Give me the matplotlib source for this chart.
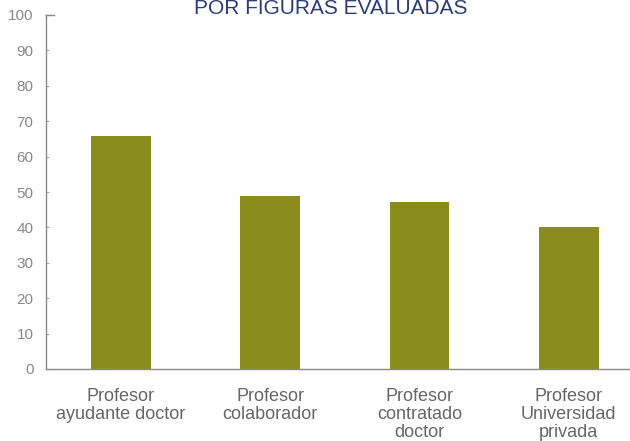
import matplotlib.pyplot as plt
from matplotlib.lines import Line2D
import numpy as np

categories = ['Profesor\nayudante doctor', 'Profesor\ncolaborador',
              'Profesor\ncontratado\ndoctor', 'Profesor\nUniversidad\nprivada']
values = [65.7, 49.0, 47.3, 40.2]
yticks = list(range(0, 101, 10))

plt.rcParams['font.family'] = ['Liberation Sans', 'DejaVu Sans']

fig = plt.figure(figsize=(6.3, 4.41), dpi=100)
ax = fig.add_axes([46/630, 1 - 369/441, 1 - 46/630, (369 - 15)/441])

x = np.arange(len(categories))
ax.bar(x, values, width=0.4, color='#8a8c1b')

ax.set_xlim(-0.5, 3.41)
ax.set_ylim(0, 100)
ax.set_yticks(yticks)
ax.set_xticks(x)
ax.set_xticklabels(categories, fontsize=13, color='#666666', linespacing=1.05)

for side in ['top', 'right']:
    ax.spines[side].set_visible(False)
for side in ['left', 'bottom']:
    ax.spines[side].set_color('#888888')
    ax.spines[side].set_linewidth(1.0)

# short cap at the top of the y axis
ax.add_line(Line2D([0, 8/584], [1, 1], transform=ax.transAxes, color='#888888',
                   linewidth=1.0, clip_on=False))

ax.tick_params(axis='y', direction='in', length=2, color='#aaaaaa',
               labelsize=11, labelcolor='#888888', pad=9)
ax.tick_params(axis='x', length=0, pad=14)

fig.text(331/630, 1 - 14/441, 'POR FIGURAS EVALUADAS', ha='center', va='baseline',
         fontsize=15, color='#2b3a7c')

fig.savefig('out.png', dpi=100)
